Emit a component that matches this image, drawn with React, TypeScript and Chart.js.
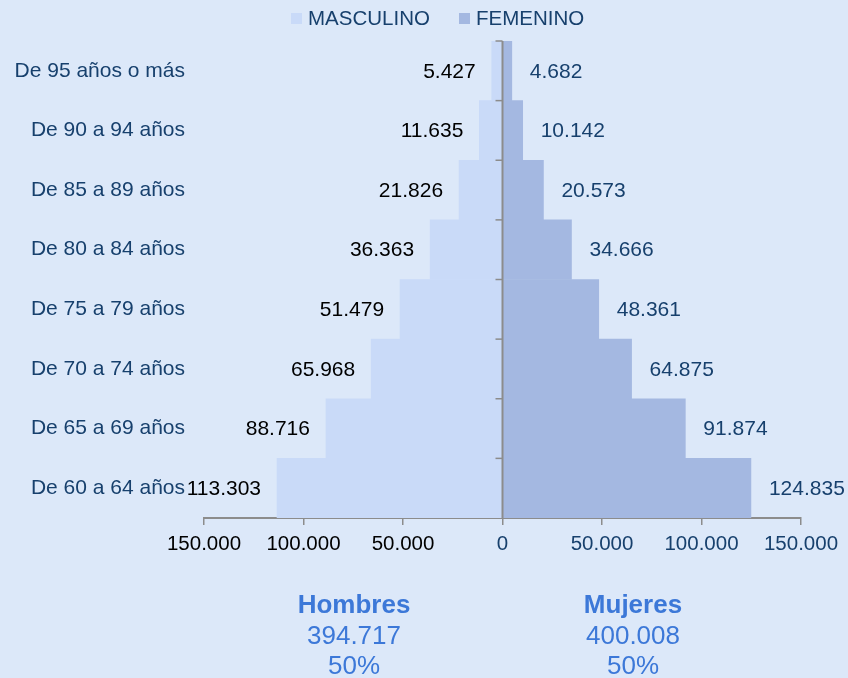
import React, { useEffect, useRef } from "react";
import { Chart, registerables } from "chart.js";

Chart.register(...registerables);

const categories = [
  "De 95 años o más",
  "De 90 a 94 años",
  "De 85 a 89 años",
  "De 80 a 84 años",
  "De 75 a 79 años",
  "De 70 a 74 años",
  "De 65 a 69 años",
  "De 60 a 64 años",
];
const masculino = [5427, 11635, 21826, 36363, 51479, 65968, 88716, 113303];
const femenino = [4682, 10142, 20573, 34666, 48361, 64875, 91874, 124835];
const xTicks = [-150000, -100000, -50000, 0, 50000, 100000, 150000];
const seriesNames = ["MASCULINO", "FEMENINO"];
const totals = [
  { title: "Hombres", total: "394.717", pct: "50%" },
  { title: "Mujeres", total: "400.008", pct: "50%" },
];

const FONT = "'Liberation Sans', Arial, sans-serif";
const FS = 20.5;
const FS_LABEL = 21;
const DARK = "#17406D";
const BG = "#DCE8F9";
const MALE_COLOR = "#C9DAF8";
const FEMALE_COLOR = "#A4B8E1";
const SERIES_COLORS = [MALE_COLOR, FEMALE_COLOR];
const AXIS = "#8C8C8C";

function fmt(v: number): string {
  const s = Math.round(Math.abs(v)).toString();
  return s.replace(/\B(?=(\d{3})+(?!\d))/g, ".");
}

const centerAxisPlugin = {
  id: "centerAxis",
  afterDatasetsDraw(chart: any) {
    const ctx = chart.ctx;
    const xs = chart.scales.x;
    const ys = chart.scales.y;
    const x0 = xs.getPixelForValue(0);
    const { top, bottom } = chart.chartArea;
    ctx.save();
    ctx.strokeStyle = AXIS;
    ctx.lineWidth = 2;
    ctx.beginPath();
    ctx.moveTo(x0, top);
    ctx.lineTo(x0, bottom);
    ctx.stroke();
    const n = categories.length;
    const step = (bottom - top) / n;
    ctx.lineWidth = 1.5;
    for (let i = 0; i < n; i++) {
      const yb = ys.getPixelForValue(i) - step / 2;
      ctx.beginPath();
      ctx.moveTo(x0 - 7, yb);
      ctx.lineTo(x0, yb);
      ctx.stroke();
    }
    ctx.restore();
  },
};

const labelPlugin = {
  id: "barLabels",
  afterDatasetsDraw(chart: any) {
    const ctx = chart.ctx;
    ctx.save();
    ctx.font = `${FS_LABEL}px ${FONT}`;
    ctx.textBaseline = "middle";
    chart.data.datasets.forEach((ds: any, di: number) => {
      const meta = chart.getDatasetMeta(di);
      meta.data.forEach((el: any, i: number) => {
        const v = ds.data[i];
        if (v < 0) {
          ctx.fillStyle = "#000000";
          ctx.textAlign = "right";
          ctx.fillText(fmt(v), el.x - 16, el.y + 1);
        } else {
          ctx.fillStyle = DARK;
          ctx.textAlign = "left";
          ctx.fillText(fmt(v), el.x + 18, el.y + 1);
        }
      });
    });
    ctx.restore();
  },
};

function PyramidChart() {
  const ref = useRef<HTMLCanvasElement | null>(null);
  useEffect(() => {
    if (!ref.current) return;
    const chart = new Chart(ref.current, {
      type: "bar",
      data: {
        labels: categories,
        datasets: [
          {
            label: seriesNames[0],
            data: masculino.map((v) => -v),
            backgroundColor: MALE_COLOR,
            borderWidth: 0,
            barPercentage: 1,
            categoryPercentage: 1,
          },
          {
            label: seriesNames[1],
            data: femenino,
            backgroundColor: FEMALE_COLOR,
            borderWidth: 0,
            barPercentage: 1,
            categoryPercentage: 1,
          },
        ],
      },
      options: {
        indexAxis: "y",
        animation: false,
        responsive: false,
        maintainAspectRatio: false,
        layout: { padding: { left: 0, right: 47, top: 41, bottom: 0 } },
        plugins: {
          legend: { display: false },
          tooltip: { enabled: false },
        },
        scales: {
          x: {
            type: "linear",
            stacked: true,
            min: -150000,
            max: 150000,
            afterBuildTicks: (scale: any) => {
              scale.ticks = xTicks.map((v) => ({ value: v }));
            },
            afterFit: (scale: any) => {
              scale.height = 160;
            },
            grid: {
              drawOnChartArea: false,
              drawTicks: true,
              tickLength: 7,
              color: AXIS,
              lineWidth: 1.5,
            },
            border: { display: true, color: AXIS, width: 2 },
            ticks: {
              padding: 7,
              maxRotation: 0,
              autoSkip: false,
              font: { family: FONT, size: FS },
              color: (c: any) => (c.tick && c.tick.value < 0 ? "#000000" : DARK),
              callback: (v: any) => fmt(Number(v)),
            },
          },
          y: {
            stacked: true,
            afterFit: (scale: any) => {
              scale.width = 204;
            },
            grid: { display: false, drawTicks: false },
            border: { display: false },
            ticks: {
              padding: 19,
              color: DARK,
              font: { family: FONT, size: FS_LABEL },
            },
          },
        },
      },
      plugins: [centerAxisPlugin, labelPlugin],
    } as any);
    return () => chart.destroy();
  }, []);
  return <canvas ref={ref} width={848} height={678} style={{ display: "block" }} />;
}

export default function App() {
  const legendX = [291, 459];
  return (
    <div
      style={{
        position: "fixed",
        left: 0,
        top: 0,
        width: 848,
        height: 678,
        background: BG,
        overflow: "hidden",
      }}
    >
      <PyramidChart />
      {seriesNames.map((name, i) => (
        <div
          key={name}
          style={{
            position: "absolute",
            left: legendX[i],
            top: 6,
            height: 24,
            display: "flex",
            alignItems: "center",
            fontFamily: FONT,
            fontSize: FS,
            color: DARK,
            whiteSpace: "nowrap",
          }}
        >
          <span
            style={{
              display: "inline-block",
              width: 11,
              height: 11,
              background: SERIES_COLORS[i],
              marginRight: 6,
            }}
          />
          <span>{name}</span>
        </div>
      ))}
      {totals.map((t, i) => (
        <div
          key={t.title}
          style={{
            position: "absolute",
            top: 589,
            left: i === 0 ? 254 : 533,
            width: 200,
            textAlign: "center",
            fontFamily: FONT,
            fontSize: 26,
            lineHeight: "30.5px",
            color: "#3C78D8",
          }}
        >
          <div style={{ fontWeight: "bold" }}>{t.title}</div>
          <div>{t.total}</div>
          <div>{t.pct}</div>
        </div>
      ))}
    </div>
  );
}
